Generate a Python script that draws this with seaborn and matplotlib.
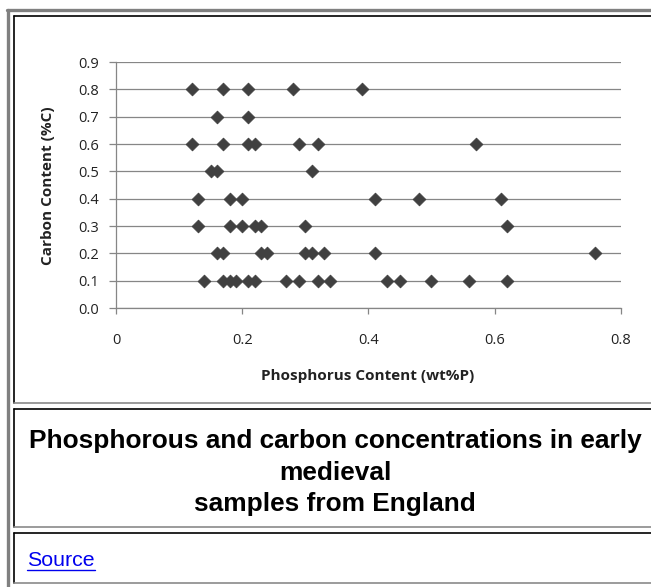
import numpy as np
import pandas as pd
import seaborn as sns
import matplotlib.pyplot as plt
from matplotlib.lines import Line2D

# 데이터
phosphorus = [
    0.12, 0.17, 0.21, 0.28, 0.39,                     # 0.8
    0.16, 0.21,                                       # 0.7
    0.12, 0.17, 0.21, 0.22, 0.29, 0.32, 0.57,         # 0.6
    0.15, 0.16, 0.31,                                 # 0.5
    0.13, 0.18, 0.20, 0.41, 0.48, 0.61,               # 0.4
    0.13, 0.18, 0.20, 0.22, 0.23, 0.30, 0.62,         # 0.3
    0.16, 0.17, 0.23, 0.24, 0.30, 0.31, 0.33, 0.41, 0.76,  # 0.2
    0.14, 0.17, 0.18, 0.19, 0.21, 0.22, 0.27, 0.29, 0.32, 0.34,
    0.43, 0.45, 0.50, 0.56, 0.62,                     # 0.1
]
carbon = ([0.8] * 5 + [0.7] * 2 + [0.6] * 7 + [0.5] * 3 + [0.4] * 6
          + [0.3] * 7 + [0.2] * 9 + [0.1] * 15)

x_ticks = [0, 0.2, 0.4, 0.6, 0.8]
x_tick_labels = ['0', '0.2', '0.4', '0.6', '0.8']
y_ticks = [0.0, 0.1, 0.2, 0.3, 0.4, 0.5, 0.6, 0.7, 0.8, 0.9]
y_tick_labels = ['0.0', '0.1', '0.2', '0.3', '0.4', '0.5', '0.6', '0.7', '0.8', '0.9']

title = 'Phosphorous and carbon concentrations in early\nmedieval\nsamples from England'
x_label = 'Phosphorus Content (wt%P)'
y_label = 'Carbon Content (%C)'

df = pd.DataFrame({'P': phosphorus, 'C': carbon})

W, H = 651, 587
sns.set_style('white')
plt.rcParams['font.family'] = ['Open Sans', 'DejaVu Sans']

fig = plt.figure(figsize=(W / 100, H / 100), dpi=100)


def fx(px):
    return px / W


def fy(py):
    return 1 - py / H


# 표 테두리 (HTML 페이지 모양)
def hline(y, x0, x1, color, lw):
    fig.lines.append(Line2D([fx(x0), fx(x1)], [fy(y), fy(y)], color=color,
                            lw=lw, transform=fig.transFigure))


def vline(x, y0, y1, color, lw):
    fig.lines.append(Line2D([fx(x), fx(x)], [fy(y0), fy(y1)], color=color,
                            lw=lw, transform=fig.transFigure))


gray = '#808080'
vline(7.8, 9.5, H, gray, 2.4)
hline(9.5, 6.5, W, gray, 2.4)
for top, bottom in [(16, 403), (409, 527), (533, 583)]:
    hline(top, 14, W, 'black', 1.2)
    vline(14, top, bottom, 'black', 1.2)
    hline(bottom, 14, W, '#8a8a8a', 1.2)

# 산점도
ax = fig.add_axes([fx(116), fy(308), fx(620.7) - fx(116), fy(62) - fy(308)])
sns.scatterplot(data=df, x='P', y='C', marker='D', s=42, color='#404040',
                edgecolor='#404040', linewidth=0.6, ax=ax, zorder=3, clip_on=False)

ax.set_xlim(0, 0.8)
ax.set_ylim(0, 0.9)
ax.set_xticks(x_ticks)
ax.set_xticklabels(x_tick_labels)
ax.set_yticks(y_ticks)
ax.set_yticklabels(y_tick_labels)
ax.set_xlabel('')
ax.set_ylabel('')
ax.yaxis.grid(True, color='#868686', lw=0.9)
ax.xaxis.grid(False)
ax.set_axisbelow(True)
for side in ['top', 'right']:
    ax.spines[side].set_visible(False)
for side in ['left', 'bottom']:
    ax.spines[side].set_color('#868686')
    ax.spines[side].set_linewidth(0.9)
ax.tick_params(axis='y', direction='out', length=5, width=0.9, color='#868686',
               labelsize=10.5, labelcolor='#222222', pad=7, left=True)
ax.tick_params(axis='x', direction='out', length=4, width=0.9, color='#868686',
               labelsize=10.5, labelcolor='#222222', pad=14, bottom=True)

fig.text(fx(368), fy(376), x_label, ha='center', va='center', fontsize=11,
         fontweight='bold', color='#222222')
fig.text(fx(48), fy(186), y_label, ha='center', va='center', fontsize=11,
         fontweight='bold', color='#222222', rotation=90)

# 제목
fig.text(fx(335), fy(472.5), title, ha='center', va='center', fontsize=18.9,
         fontweight='bold', family='Liberation Sans', color='black',
         linespacing=1.39)

# Source 링크
src = fig.text(fx(27), fy(560), 'Source', ha='left', va='center', fontsize=15.4,
               family='Liberation Sans', color='#0000ee')
fig.canvas.draw()
bb = src.get_window_extent()
fig.lines.append(Line2D([bb.x0 / W, bb.x1 / W], [fy(570), fy(570)], color='#0000ee',
                        lw=1.0, transform=fig.transFigure))

fig.savefig('out.png', dpi=100)
